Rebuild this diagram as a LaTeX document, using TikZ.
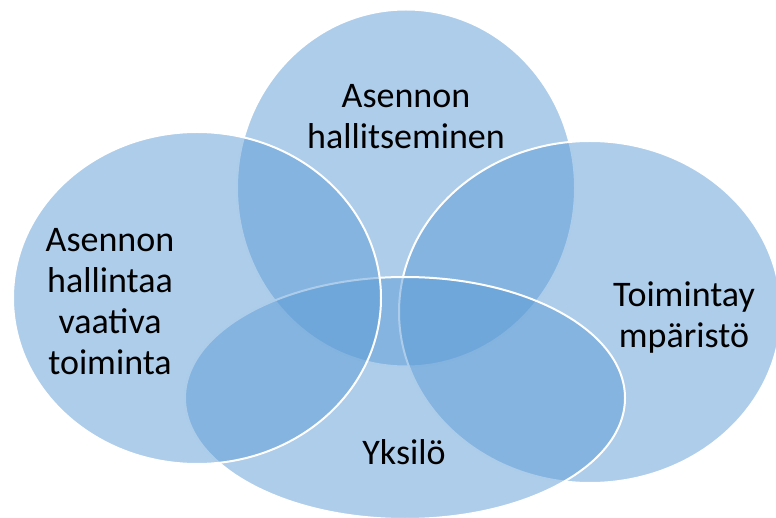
\documentclass[tikz,border=0pt]{standalone}
\usepackage{fontspec}
\setmainfont{Carlito}
\usepackage{xcolor}
\usetikzlibrary{shapes.geometric}
\definecolor{vennblue}{RGB}{91,155,213}

\begin{document}
\begin{tikzpicture}[x=1pt,y=-1pt,%
  set/.style={ellipse,draw=white,line width=2pt,fill=vennblue,fill opacity=0.5,draw opacity=1,inner sep=0pt},
  lbl/.style={align=center,text=black,font=\fontsize{36}{41}\selectfont}
]
  \useasboundingbox (0,0) rectangle (776,518);

  \node (hallinta) at (406,188) [set,minimum width=338pt,minimum height=357pt] {};
  \node (ympar)    at (590,312) [set,minimum width=382pt,minimum height=342pt] {};
  \node (yksilo)   at (405,398) [set,minimum width=440pt,minimum height=242pt] {};
  \node (toiminta) at (197,298) [set,minimum width=368pt,minimum height=332pt] {};

  \node at (406,117) [lbl] {Asennon\\hallitseminen};
  \node at (110,302) [lbl] {Asennon\\hallintaa\\vaativa\\toiminta};
  \node at (684,318) [lbl] {Toimintay\\mpäristö};
  \node at (404,452) [lbl] {Yksilö};
\end{tikzpicture}
\end{document}
